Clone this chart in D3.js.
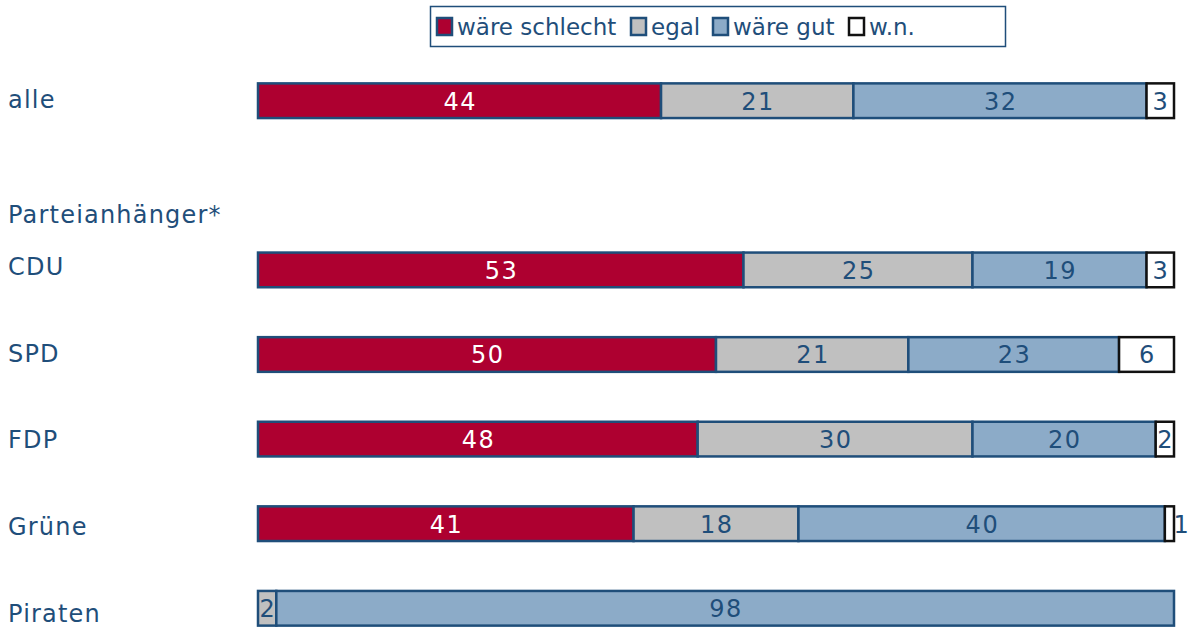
<!DOCTYPE html>
<html><head><meta charset="utf-8">
<script src="https://cdn.jsdelivr.net/npm/d3@7"></script>
<style>body{margin:0;background:#fff;} text{font-family:"DejaVu Sans",Verdana,sans-serif;}</style>
</head><body><svg id="c" width="1194" height="628"></svg>
<script>
const categories = ["alle", "CDU", "SPD", "FDP", "Grüne", "Piraten"];
const slots = ["alle", "", "CDU", "SPD", "FDP", "Grüne", "Piraten"];
const series = ["wäre schlecht", "egal", "wäre gut", "w.n."];
const schlecht = [44, 53, 50, 48, 41, 0];
const egal = [21, 25, 21, 30, 18, 2];
const gut = [32, 19, 23, 20, 40, 98];
const wn = [3, 3, 6, 2, 1, 0];
const groupLabel = "Parteianhänger*";

const fills = ["#ae0030", "#c0c0c0", "#8cabc8", "#ffffff"];
const strokes = ["#1f4e7a", "#1f4e7a", "#1f4e7a", "#111111"];
const textCol = ["#ffffff", "#1f4e7a", "#1f4e7a", "#1f4e7a"];
const blue = "#1f4e7a";

const svg = d3.select("#c");
const x = d3.scaleLinear().domain([0, 100]).range([258, 1174]);
const y = d3.scaleBand().domain(slots).range([58, 651]).paddingInner(0.59).paddingOuter(0.3);
// category labels sit on their own grid (cap-centre positions)
const yLab = d3.scalePoint().domain(["", ...categories.slice(1)]).range([179, 613.5]);

const rows = categories.map((c, i) => ({cat: c, vals: [schlecht[i], egal[i], gut[i], wn[i]]}));

rows.forEach(r => {
  let acc = 0;
  const g = svg.append("g");
  const y0 = y(r.cat), h = y.bandwidth();
  r.vals.forEach((v, k) => {
    if (v <= 0) return;
    const x0 = x(acc), x1 = x(acc + v);
    g.append("rect").attr("x", x0).attr("y", y0).attr("width", x1 - x0).attr("height", h)
      .attr("fill", fills[k]).attr("stroke", strokes[k]).attr("stroke-width", 2.5);
    const outside = (r.cat === "Grüne" && k === 3);
    g.append("text")
      .attr("x", outside ? x1 + 8 : (x0 + x1) / 2 + 0.75)
      .attr("y", y0 + h / 2 + 0.5)
      .attr("dy", "0.35em")
      .attr("text-anchor", "middle")
      .attr("font-size", 24)
      .attr("letter-spacing", "1.5px")
      .attr("fill", textCol[k])
      .text(v);
    acc += v;
  });
  const ly = r.cat === "alle" ? y0 + h / 2 - 1 : yLab(r.cat);
  svg.append("text").attr("x", 8).attr("y", ly + 8.75)
    .attr("font-size", 24).attr("letter-spacing", "1.2px").attr("fill", blue).text(r.cat);
});

svg.append("text").attr("x", 8).attr("y", 214 + 8.75)
  .attr("font-size", 24).attr("letter-spacing", "1.2px").attr("fill", blue).text(groupLabel);

// legend
const lg = svg.append("g");
lg.append("rect").attr("x", 430.5).attr("y", 6.5).attr("width", 575).attr("height", 40)
  .attr("fill", "#fff").attr("stroke", blue).attr("stroke-width", 1.5);
const legX = [437, 631, 713, 849];
series.forEach((s, k) => {
  lg.append("rect").attr("x", legX[k]).attr("y", 18).attr("width", 15).attr("height", 17)
    .attr("fill", fills[k]).attr("stroke", strokes[k]).attr("stroke-width", 2.5);
  lg.append("text").attr("x", legX[k] + 20).attr("y", 27).attr("dy", "0.35em")
    .attr("font-size", 23).attr("fill", blue).text(s);
});
</script></body></html>
